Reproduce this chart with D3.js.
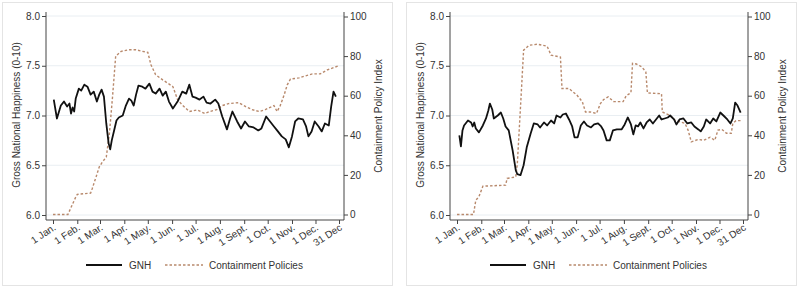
<!DOCTYPE html>
<html lang="en">
<head>
<meta charset="UTF-8">
<title>GNH vs Containment Policies</title>
<script src="https://d3js.org/d3.v7.min.js"></script>
<style>
  body { margin: 0; background: #fff; font-family: "Liberation Sans", Arial, sans-serif; }
  text { fill: #333; }
</style>
</head>
<body>
<div id="chart"></div>
<script>
  // Tick labels
  const monthLabels = ["1 Jan.", "1 Feb.", "1 Mar.", "1 Apr.", "1 May.", "1 Jun.", "1 Jul.",
                       "1 Aug.", "1 Sept.", "1 Oct.", "1 Nov.", "1 Dec.", "31 Dec"];
  const monthDays = [0, 31, 60, 91, 121, 152, 182, 213, 244, 274, 305, 335, 365];
  const gnhTicks = [6.0, 6.5, 7.0, 7.5, 8.0];
  const cpiTicks = [0, 20, 40, 60, 80, 100];

  // Left panel: day of year (2020) and values
  const gnh1Days = [1,5,10,14,18,21,23,25,27,29,33,36,40,44,48,52,56,59,62,65,68,71,73,75,78,81,84,89,93,97,100,103,106,109,114,118,123,127,131,136,140,144,148,153,159,165,170,174,178,182,187,192,196,201,207,211,216,222,226,229,235,240,245,250,256,262,266,272,277,282,286,292,297,301,305,309,313,319,323,326,330,334,339,343,347,352,355,358,361];
  const gnh1Vals = [7.16,6.97,7.1,7.14,7.09,7.12,7.02,7.08,7.04,7.17,7.27,7.25,7.31,7.29,7.21,7.24,7.14,7.21,7.26,7.19,6.92,6.72,6.66,6.75,6.85,6.95,6.98,7.0,7.1,7.17,7.15,7.1,7.21,7.3,7.29,7.27,7.32,7.24,7.22,7.27,7.2,7.24,7.14,7.07,7.14,7.24,7.22,7.31,7.19,7.18,7.16,7.19,7.13,7.12,7.16,7.12,6.99,6.86,6.97,7.04,6.94,6.87,6.94,6.89,6.88,6.85,6.87,6.99,6.94,6.89,6.85,6.79,6.76,6.68,6.79,6.94,6.97,6.96,6.89,6.79,6.84,6.94,6.89,6.84,6.92,6.9,7.09,7.24,7.19];
  const cpi1Days = [0,19,29,31,48,50,55,59,63,68,72,76,80,87,97,106,114,121,125,131,140,153,159,165,174,184,194,200,209,216,224,237,246,254,263,271,282,286,290,295,299,303,314,322,331,341,350,364];
  const cpi1Vals = [0,0,8.8,10.2,10.8,13,19,24,26.5,29,41,59.5,80,82.4,83.2,83.2,82.4,81.9,75.6,70.6,68,64.6,58,55.3,52,52.8,51,52,53,55,56,56.5,54.5,53,52,53,55,52,55,60.4,65.5,68.4,69,70,71,71,73,75];

  // Right panel
  const gnh2Days = [3,5,7,9,14,18,20,22,24,28,33,37,40,42,45,47,52,56,59,62,66,71,75,77,81,85,89,94,98,103,106,111,115,120,124,127,132,135,139,143,147,150,154,158,162,166,171,175,180,184,187,191,195,199,204,210,214,218,222,225,228,231,234,238,242,246,250,255,258,261,265,269,272,277,280,284,289,294,299,303,308,311,315,318,323,327,331,336,340,345,349,352,355,358,362];
  const gnh2Vals = [6.8,6.69,6.85,6.9,6.95,6.93,6.89,6.93,6.87,6.83,6.9,6.97,7.05,7.12,7.06,6.97,7.0,7.03,6.97,6.89,6.85,6.65,6.45,6.41,6.4,6.5,6.68,6.82,6.92,6.91,6.88,6.93,6.9,6.95,6.92,7.0,6.98,7.01,7.02,6.96,6.89,6.78,6.78,6.9,6.94,6.9,6.88,6.91,6.92,6.89,6.85,6.75,6.75,6.85,6.86,6.86,6.91,6.98,6.91,6.81,6.9,6.89,6.93,6.87,6.93,6.96,6.92,6.97,7.0,6.96,6.97,6.98,7.0,6.96,6.91,6.96,6.97,6.92,6.93,6.89,6.86,6.84,6.89,6.96,6.92,6.97,6.94,7.03,7.0,6.96,6.92,6.97,7.13,7.1,7.03];
  const cpi2Days = [0,21,24,28,33,62,64,75,77,81,85,92,103,115,120,132,134,143,153,160,164,170,178,183,187,193,200,212,216,222,224,229,236,241,243,261,262,272,278,291,295,299,308,315,323,329,333,338,344,350,352,356,362];
  const cpi2Vals = [0,0,7.2,9,14.3,14.8,18.2,19,25.7,54,83,85.5,86,85,80.5,79.5,63.6,63.6,60.3,56.9,51.8,51.8,51,56,58,59.4,57,57,60,61.5,76.3,76,74.5,72,61.4,61,51.8,50,47.6,46,42.5,36.7,37.9,37.5,39,37.5,42.6,43,41,41,46,47.4,47.4];

  const W = 798, H = 288;
  const start = new Date(Date.UTC(2020, 0, 1));
  const toDate = d => d3.utcDay.offset(start, d);

  const svg = d3.select("#chart").append("svg")
    .attr("width", W).attr("height", H);

  function drawPanel(offsetX, gDays, gVals, cDays, cVals) {
    const g = svg.append("g").attr("transform", `translate(${offsetX},0)`);

    const left = 46, right = 344, top = 12, bottom = 220;

    // outer frame
    g.append("rect")
      .attr("x", 2.5).attr("y", 2.5).attr("width", 390).attr("height", 283)
      .attr("fill", "none").attr("stroke", "#e4e4e4");

    const x = d3.scaleUtc().domain([toDate(0), toDate(365)]).range([53, 339]);
    const y = d3.scaleLinear().domain([6, 8]).range([215, 16]);
    const y2 = d3.scaleLinear().domain([0, 100]).range([214.5, 16.5]);

    // grid
    g.append("g").selectAll("line").data(gnhTicks).join("line")
      .attr("x1", left).attr("x2", right)
      .attr("y1", d => y(d)).attr("y2", d => y(d))
      .attr("stroke", "#e9eef2").attr("stroke-width", 1);

    // left axis
    const ax = g.append("g").attr("transform", `translate(${left},0)`)
      .call(d3.axisLeft(y).tickValues(gnhTicks).tickFormat(d3.format(".1f")).tickSize(4).tickPadding(2));
    ax.select(".domain").attr("d", `M0,${top}V${bottom}`);

    // right axis
    const ax2 = g.append("g").attr("transform", `translate(${right},0)`)
      .call(d3.axisRight(y2).tickValues(cpiTicks).tickSize(4).tickPadding(2));
    ax2.select(".domain").attr("d", `M0,${top}V${bottom}`);

    // bottom axis
    const ax3 = g.append("g").attr("transform", `translate(0,${bottom})`)
      .call(d3.axisBottom(x).tickValues(monthDays.map(toDate))
        .tickFormat((d, i) => monthLabels[i]).tickSize(4));
    ax3.select(".domain").attr("d", `M${left},0H${right}`);
    ax3.selectAll("text")
      .attr("text-anchor", "end")
      .attr("transform", "translate(-1,3) rotate(-33)")
      .attr("dy", "0.35em").attr("y", 4).attr("x", 0);

    [ax, ax2, ax3].forEach(a => {
      a.selectAll(".domain, line").attr("stroke", "#444");
      a.selectAll("text").style("font-size", "10px").style("font-family", "'Liberation Sans', Arial, sans-serif").attr("fill", "#333");
    });

    // containment line
    const cData = cDays.map((d, i) => ({date: toDate(d), v: cVals[i]}));
    g.append("path").datum(cData)
      .attr("fill", "none").attr("stroke", "#b8896c").attr("stroke-width", 1.4)
      .attr("stroke-dasharray", "2.5,2")
      .attr("d", d3.line().x(d => x(d.date)).y(d => y2(d.v)));

    // GNH line
    const gData = gDays.map((d, i) => ({date: toDate(d), v: gVals[i]}));
    g.append("path").datum(gData)
      .attr("fill", "none").attr("stroke", "#111").attr("stroke-width", 1.8)
      .attr("stroke-linejoin", "round")
      .attr("d", d3.line().x(d => x(d.date)).y(d => y(d.v)));

    // axis titles
    g.append("text")
      .attr("transform", `translate(20,115) rotate(-90)`)
      .attr("text-anchor", "middle").style("font-size", "10px")
      .text("Gross National Happiness (0-10)");
    g.append("text")
      .attr("transform", `translate(382,116) rotate(-90)`)
      .attr("text-anchor", "middle").style("font-size", "10px")
      .text("Containment Policy Index");

    // legend
    const lg = g.append("g").attr("transform", "translate(0,265)");
    lg.append("line").attr("x1", 86).attr("x2", 122).attr("y1", 0).attr("y2", 0)
      .attr("stroke", "#111").attr("stroke-width", 1.8);
    lg.append("text").attr("x", 129).attr("dy", "0.35em").style("font-size", "10px").text("GNH");
    lg.append("line").attr("x1", 165).attr("x2", 203).attr("y1", 0).attr("y2", 0)
      .attr("stroke", "#b8896c").attr("stroke-width", 1.4).attr("stroke-dasharray", "2.5,2");
    lg.append("text").attr("x", 209).attr("dy", "0.35em").style("font-size", "10px").text("Containment Policies");
  }

  drawPanel(0, gnh1Days, gnh1Vals, cpi1Days, cpi1Vals);
  drawPanel(404, gnh2Days, gnh2Vals, cpi2Days, cpi2Vals);
</script>
</body>
</html>
